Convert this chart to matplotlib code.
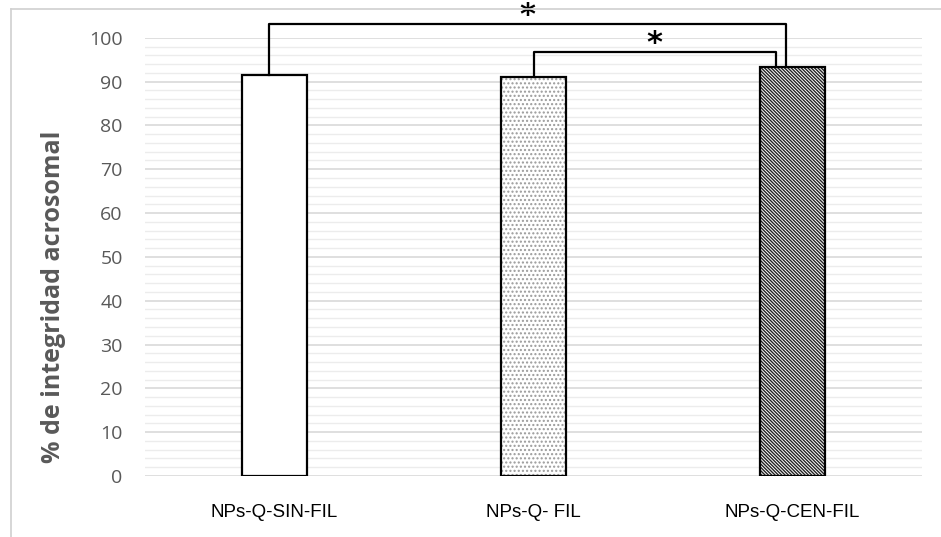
import numpy as np
import matplotlib
matplotlib.use('Agg')
import matplotlib.pyplot as plt
from matplotlib.lines import Line2D

# Data
categories = ['NPs-Q-SIN-FIL', 'NPs-Q- FIL', 'NPs-Q-CEN-FIL']
values = [91.4, 91.1, 93.4]
hatches = ['', '....', '\\\\\\\\\\\\\\\\\\\\']
hatch_colors = ['black', '#9a9a9a', '#222222']
yticks = list(range(0, 101, 10))

plt.rcParams['hatch.linewidth'] = 1.0

fig = plt.figure(figsize=(9.41, 5.37), dpi=100)
ax = fig.add_axes([0.154, 0.1136, 0.826, 0.816])

x = np.arange(len(categories))
w = 0.25

# grid: major every 10, minor every 2
for v in np.arange(0, 101, 2):
    major = v % 10 == 0
    ax.axhline(v, color='#d9d9d9' if major else '#ececec',
               lw=1.2 if major else 1.0, zorder=0)

# hatched fill first, then the black outline on top
ax.bar(x, values, w, color='white', edgecolor=hatch_colors, hatch=hatches,
       linewidth=0, zorder=2)
ax.bar(x, values, w, color='none', edgecolor='black', linewidth=1.6, zorder=3)

ax.set_xlim(-0.5, 2.5)
ax.set_ylim(0, 100)
ax.set_yticks(yticks)
ax.set_xticks(x)
ax.set_xticklabels(categories, fontsize=13.5, family='Liberation Sans')
ax.tick_params(axis='x', length=0, pad=20)
ax.tick_params(axis='y', length=0, pad=16, labelcolor='#595959', labelsize=14)
for lab in ax.get_yticklabels():
    lab.set_family('Open Sans')
for s in ax.spines.values():
    s.set_visible(False)

ax.set_ylabel('% de integridad acrosomal', fontsize=18, fontweight='bold',
              color='#595959', family='Open Sans')
ax.yaxis.set_label_coords(-0.117, 0.408)
ax.yaxis.label.set_va('center')

# significance brackets
def bracket(x0, x1, y0, y1, top):
    ax.add_line(Line2D([x0, x0, x1, x1], [y0, top, top, y1], color='black',
                       lw=1.6, clip_on=False, zorder=4))

bracket(-0.021, 1.975, values[0], values[2], 103.2)
bracket(1.0, 1.936, values[1], values[2], 96.8)
ax.text(0.975, 105.2, '*', ha='center', va='center', fontsize=22,
        fontweight='bold', clip_on=False)
ax.text(1.465, 98.8, '*', ha='center', va='center', fontsize=22,
        fontweight='bold', clip_on=False)

# outer chart frame (left and top edges visible)
fig.add_artist(Line2D([0.0117, 0.0117], [0, 0.983], color='#d0d0d0', lw=1.2))
fig.add_artist(Line2D([0.0117, 1.0], [0.983, 0.983], color='#d0d0d0', lw=1.2))

fig.savefig('out.png', dpi=100)
